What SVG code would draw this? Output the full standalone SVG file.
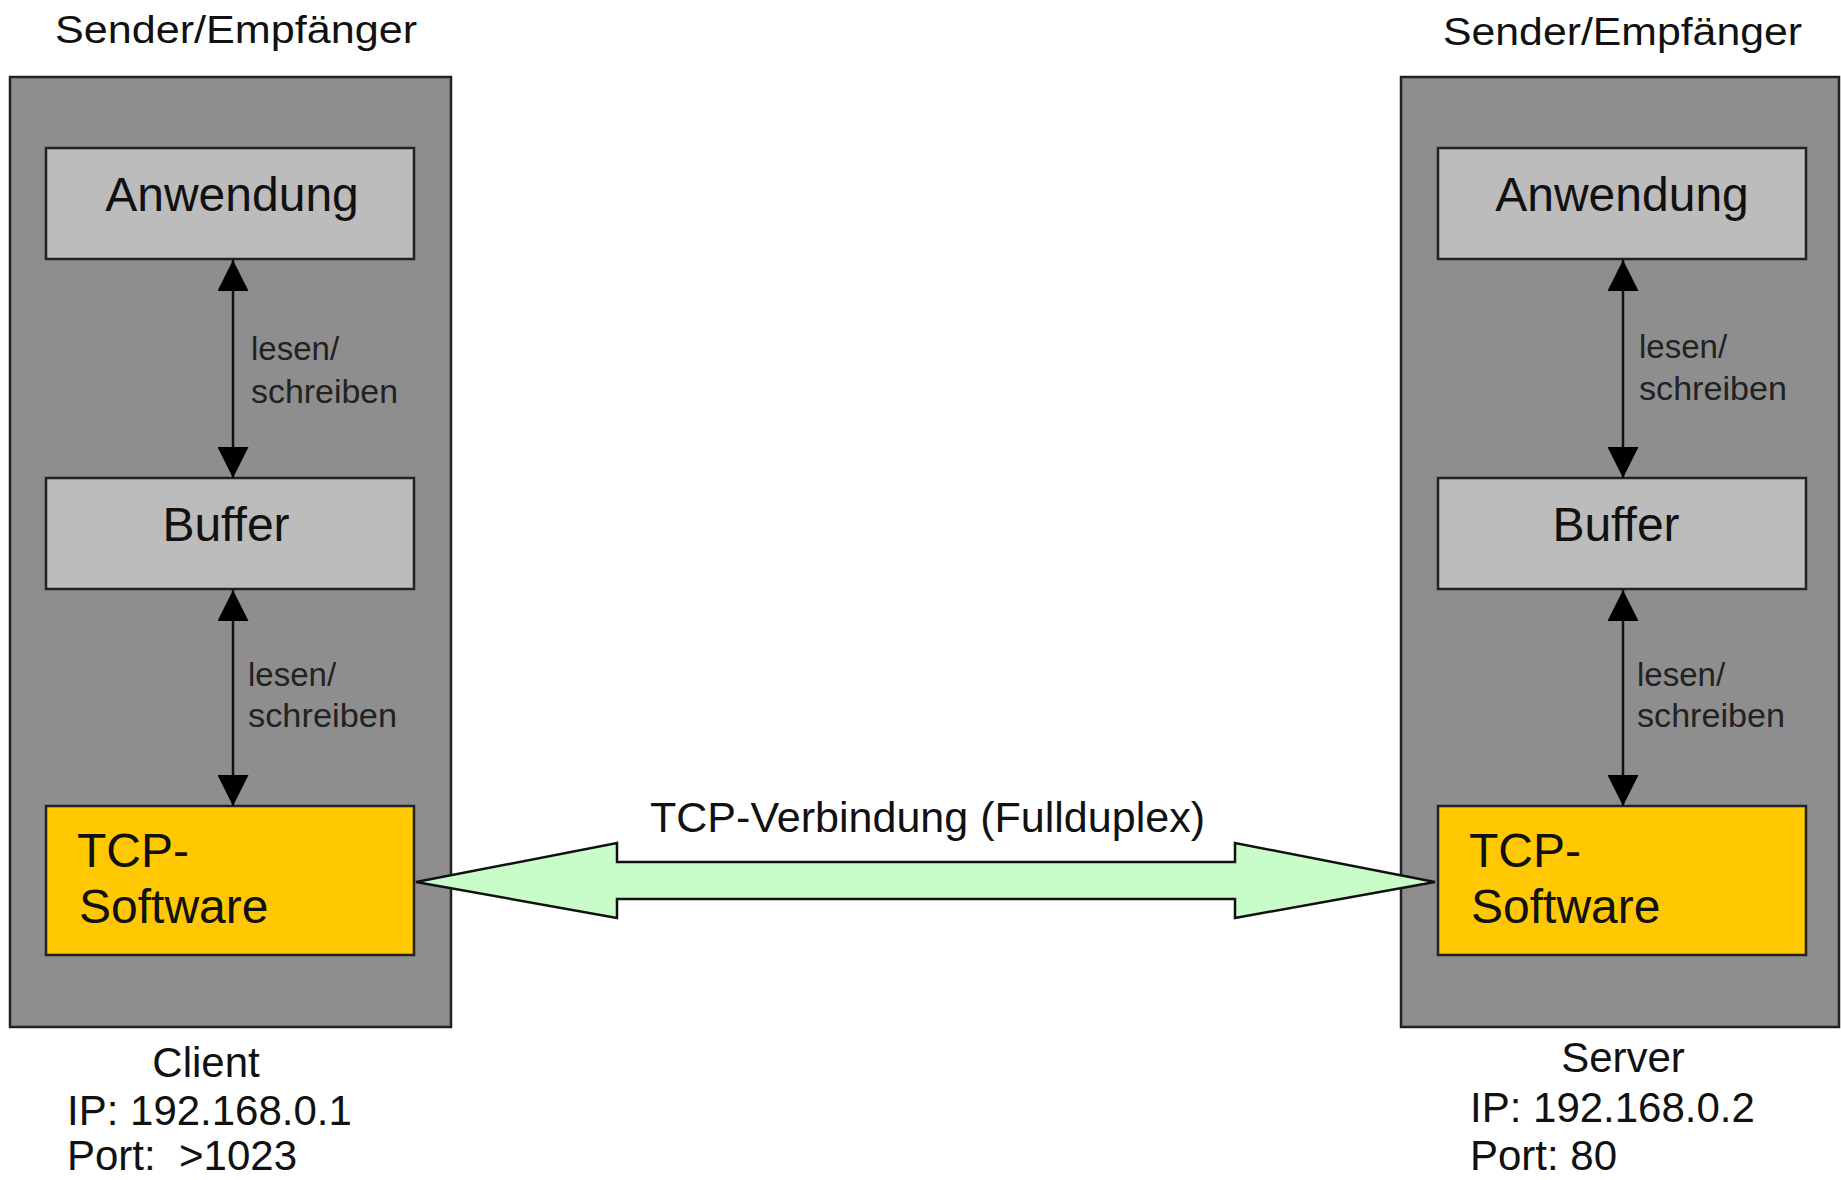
<svg xmlns="http://www.w3.org/2000/svg" width="1841" height="1180" viewBox="0 0 1841 1180">
<style>
text { font-family: "Liberation Sans", Arial, sans-serif; fill: #111; }
.title { font-size: 38px; }
.box { font-size: 48px; }
.lbl { font-size: 33px; fill: #222; }
.info { font-size: 42px; }
.outer { fill: #8e8e8e; stroke: #222; stroke-width: 2.5; }
.inner { fill: #bcbcbc; stroke: #222; stroke-width: 2.5; }
.tcp { fill: #ffc800; stroke: #222; stroke-width: 2.5; }
.rw { stroke: #111; stroke-width: 2.5; fill: none; marker-start: url(#ah); marker-end: url(#ah); }
.duplex { fill: #c8fcc8; stroke: #111; stroke-width: 2.5; stroke-linejoin: miter; }
</style>
<defs>
<marker id="ah" viewBox="0 0 10 10" refX="10" refY="5" markerUnits="userSpaceOnUse" markerWidth="32" markerHeight="31" orient="auto-start-reverse">
<path d="M0,0 L10,5 L0,10 z" fill="#000"/>
</marker>
</defs>
<rect width="1841" height="1180" fill="#fff"/>

<g id="client">
<text class="title" x="55" y="43" textLength="362" lengthAdjust="spacingAndGlyphs">Sender/Empfänger</text>
<rect class="outer" x="10" y="77" width="441" height="950"/>
<text class="info" x="206" y="1077" text-anchor="middle">Client</text>
<text class="info" x="67" y="1125">IP: 192.168.0.1</text>
<text class="info" x="67" y="1170" xml:space="preserve">Port:  &gt;1023</text>
</g>

<g id="server">
<text class="title" x="1443" y="45" textLength="359" lengthAdjust="spacingAndGlyphs">Sender/Empfänger</text>
<rect class="outer" x="1401" y="77" width="438" height="950"/>
<text class="info" x="1623" y="1072" text-anchor="middle">Server</text>
<text class="info" x="1470" y="1122">IP: 192.168.0.2</text>
<text class="info" x="1470" y="1170">Port: 80</text>
</g>

<g id="client-anwendung">
<rect class="inner" x="46" y="148" width="368" height="111"/>
<text class="box" x="232" y="211" text-anchor="middle">Anwendung</text>
</g>
<g id="client-buffer">
<rect class="inner" x="46" y="478" width="368" height="111"/>
<text class="box" x="226" y="541" text-anchor="middle">Buffer</text>
</g>
<g id="client-tcp">
<rect class="tcp" x="46" y="806" width="368" height="149"/>
<text class="box" x="77" y="867">TCP-</text>
<text class="box" x="79" y="923">Software</text>
</g>

<g id="server-anwendung">
<rect class="inner" x="1438" y="148" width="368" height="111"/>
<text class="box" x="1622" y="211" text-anchor="middle">Anwendung</text>
</g>
<g id="server-buffer">
<rect class="inner" x="1438" y="478" width="368" height="111"/>
<text class="box" x="1616" y="541" text-anchor="middle">Buffer</text>
</g>
<g id="server-tcp">
<rect class="tcp" x="1438" y="806" width="368" height="149"/>
<text class="box" x="1469" y="867">TCP-</text>
<text class="box" x="1471" y="923">Software</text>
</g>

<g id="connectors">
<line class="rw" x1="233" y1="260" x2="233" y2="478"/>
<line class="rw" x1="233" y1="590" x2="233" y2="806"/>
<line class="rw" x1="1623" y1="260" x2="1623" y2="478"/>
<line class="rw" x1="1623" y1="590" x2="1623" y2="806"/>
<polygon class="duplex" points="416,882 617,843 617,862 1235,862 1235,843 1435,882 1235,918 1235,899 617,899 617,918"/>
<text class="lbl" x="251" y="360">lesen/</text>
<text class="lbl" x="251" y="403" textLength="147" lengthAdjust="spacingAndGlyphs">schreiben</text>
<text class="lbl" x="248" y="686">lesen/</text>
<text class="lbl" x="248" y="727" textLength="149" lengthAdjust="spacingAndGlyphs">schreiben</text>
<text class="lbl" x="1639" y="358">lesen/</text>
<text class="lbl" x="1639" y="400" textLength="148" lengthAdjust="spacingAndGlyphs">schreiben</text>
<text class="lbl" x="1637" y="686">lesen/</text>
<text class="lbl" x="1637" y="727" textLength="148" lengthAdjust="spacingAndGlyphs">schreiben</text>
<text class="info" x="650" y="832" font-size="43" textLength="555" lengthAdjust="spacingAndGlyphs">TCP-Verbindung (Fullduplex)</text>
</g>
</svg>
